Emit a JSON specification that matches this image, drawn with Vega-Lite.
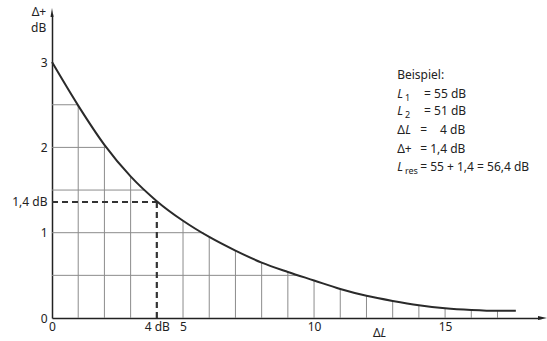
{
  "$schema": "https://vega.github.io/schema/vega-lite/v6.json",
  "width": 489,
  "height": 304,
  "autosize": {"type": "none"},
  "padding": {"left": 52, "top": 14, "right": 6, "bottom": 23},
  "background": "white",
  "config": {
    "font": "Noto Sans",
    "view": {"stroke": null},
    "axis": {
      "grid": false, "ticks": false, "tickSize": 0,
      "domainColor": "#222", "domainWidth": 1.5,
      "labelFont": "Noto Sans", "labelFontSize": 12, "labelColor": "#222",
      "labelOverlap": false, "labelFlush": false, "labelBound": false
    }
  },
  "datasets": {
    "curve": [
      {"x": 0, "y": 3.0}, {"x": 1, "y": 2.49}, {"x": 2, "y": 2.03}, {"x": 3, "y": 1.66},
      {"x": 4, "y": 1.37}, {"x": 5, "y": 1.14}, {"x": 6, "y": 0.95}, {"x": 7, "y": 0.79},
      {"x": 8, "y": 0.65}, {"x": 9, "y": 0.54}, {"x": 10, "y": 0.44}, {"x": 11, "y": 0.34},
      {"x": 12, "y": 0.26}, {"x": 13, "y": 0.2}, {"x": 14, "y": 0.15}, {"x": 15, "y": 0.115},
      {"x": 16, "y": 0.095}, {"x": 17, "y": 0.085}, {"x": 17.7, "y": 0.085}
    ],
    "vgrid": [
      {"x": 1, "y": 2.49, "y2": 0}, {"x": 2, "y": 2.03, "y2": 0}, {"x": 3, "y": 1.66, "y2": 0},
      {"x": 5, "y": 1.14, "y2": 0}, {"x": 6, "y": 0.95, "y2": 0}, {"x": 7, "y": 0.79, "y2": 0},
      {"x": 8, "y": 0.65, "y2": 0}, {"x": 9, "y": 0.54, "y2": 0}, {"x": 10, "y": 0.44, "y2": 0},
      {"x": 11, "y": 0.34, "y2": 0}, {"x": 12, "y": 0.26, "y2": 0}, {"x": 13, "y": 0.2, "y2": 0},
      {"x": 14, "y": 0.15, "y2": 0}, {"x": 15, "y": 0.115, "y2": 0}, {"x": 16, "y": 0.095, "y2": 0},
      {"x": 17, "y": 0.085, "y2": 0}
    ],
    "hgrid": [
      {"x": 0, "x2": 9.4, "y": 0.5}, {"x": 0, "x2": 5.78, "y": 1.0}, {"x": 0, "x2": 3.54, "y": 1.5},
      {"x": 0, "x2": 2.08, "y": 2.0}, {"x": 0, "x2": 0.98, "y": 2.5}
    ],
    "guide": [
      {"x": 0, "x2": 4, "y": 1.36, "y2": 1.36},
      {"x": 4, "x2": 4, "y": 0, "y2": 1.36}
    ],
    "arrowx": [{"x": 18.66, "y": 0}],
    "arrowy": [{"x": 0, "y": 3.564}],
    "plain": [
      {"x": 13.17, "y": 2.845, "t": "Beispiel:"},
      {"x": 14.2, "y": 2.623, "t": "= 55 dB"},
      {"x": 14.2, "y": 2.427, "t": "= 51 dB"},
      {"x": 13.17, "y": 2.2, "t": "Δ"},
      {"x": 14.05, "y": 2.2, "t": "="},
      {"x": 14.81, "y": 2.2, "t": "4 dB"},
      {"x": 13.17, "y": 1.984, "t": "Δ+"},
      {"x": 14.05, "y": 1.984, "t": "= 1,4 dB"},
      {"x": 14.05, "y": 1.77, "t": "= 55 + 1,4 = 56,4 dB"},
      {"x": 12.25, "y": -0.176, "t": "Δ"}
    ],
    "italic": [
      {"x": 13.17, "y": 2.623, "t": "L"},
      {"x": 13.17, "y": 2.427, "t": "L"},
      {"x": 13.48, "y": 2.2, "t": "L"},
      {"x": 13.17, "y": 1.77, "t": "L"},
      {"x": 12.54, "y": -0.176, "t": "L"}
    ],
    "sub": [
      {"x": 13.47, "y": 2.623, "t": "1"},
      {"x": 13.47, "y": 2.427, "t": "2"},
      {"x": 13.47, "y": 1.77, "t": "res"}
    ],
    "ytitle": [
      {"x": -0.22, "y": 3.587, "t": "Δ+"},
      {"x": -0.22, "y": 3.4, "t": "dB"}
    ]
  },
  "layer": [
    {
      "data": {"name": "vgrid"},
      "mark": {"type": "rule", "color": "#8c8c8c", "strokeWidth": 1},
      "encoding": {
        "x": {
          "field": "x", "type": "quantitative",
          "scale": {"domain": [0, 18.66], "nice": false, "zero": false},
          "axis": {"values": [0, 4, 5, 10, 15], "labelExpr": "datum.value == 4 ? '4 dB' : format(datum.value, 'd')", "labelPadding": 3, "title": null}
        },
        "y": {
          "field": "y", "type": "quantitative",
          "scale": {"domain": [0, 3.564], "nice": false, "zero": false},
          "axis": {"values": [0, 1, 1.36, 2, 3], "labelExpr": "datum.value == 1.36 ? '1,4 dB' : format(datum.value, 'd')", "labelPadding": 5, "title": null}
        },
        "y2": {"field": "y2"}
      }
    },
    {
      "data": {"name": "hgrid"},
      "mark": {"type": "rule", "color": "#8c8c8c", "strokeWidth": 1},
      "encoding": {
        "x": {"field": "x", "type": "quantitative"},
        "x2": {"field": "x2"},
        "y": {"field": "y", "type": "quantitative"}
      }
    },
    {
      "data": {"name": "guide"},
      "mark": {"type": "rule", "color": "#333", "strokeWidth": 2.2, "strokeDash": [6, 4]},
      "encoding": {
        "x": {"field": "x", "type": "quantitative"},
        "x2": {"field": "x2"},
        "y": {"field": "y", "type": "quantitative"},
        "y2": {"field": "y2"}
      }
    },
    {
      "data": {"name": "curve"},
      "mark": {"type": "line", "color": "#2a2a2a", "strokeWidth": 2, "interpolate": "monotone"},
      "encoding": {
        "x": {"field": "x", "type": "quantitative"},
        "y": {"field": "y", "type": "quantitative"}
      }
    },
    {
      "data": {"name": "arrowx"},
      "mark": {"type": "point", "filled": true, "opacity": 1, "color": "#222", "size": 144, "shape": "M1,0L-0.5,-0.35L-0.5,0.35Z"},
      "encoding": {
        "x": {"field": "x", "type": "quantitative"},
        "y": {"field": "y", "type": "quantitative"}
      }
    },
    {
      "data": {"name": "arrowy"},
      "mark": {"type": "point", "filled": true, "opacity": 1, "color": "#222", "size": 144, "shape": "M0,-1L0.25,0.5L-0.25,0.5Z"},
      "encoding": {
        "x": {"field": "x", "type": "quantitative"},
        "y": {"field": "y", "type": "quantitative"}
      }
    },
    {
      "data": {"name": "plain"},
      "mark": {"type": "text", "align": "left", "baseline": "middle", "fontSize": 12, "color": "#222"},
      "encoding": {
        "x": {"field": "x", "type": "quantitative"},
        "y": {"field": "y", "type": "quantitative"},
        "text": {"field": "t"}
      }
    },
    {
      "data": {"name": "italic"},
      "mark": {"type": "text", "align": "left", "baseline": "middle", "fontSize": 12, "fontStyle": "italic", "color": "#222"},
      "encoding": {
        "x": {"field": "x", "type": "quantitative"},
        "y": {"field": "y", "type": "quantitative"},
        "text": {"field": "t"}
      }
    },
    {
      "data": {"name": "sub"},
      "mark": {"type": "text", "align": "left", "baseline": "middle", "fontSize": 9, "dy": 4, "color": "#222"},
      "encoding": {
        "x": {"field": "x", "type": "quantitative"},
        "y": {"field": "y", "type": "quantitative"},
        "text": {"field": "t"}
      }
    },
    {
      "data": {"name": "ytitle"},
      "mark": {"type": "text", "align": "right", "baseline": "middle", "fontSize": 12, "color": "#222"},
      "encoding": {
        "x": {"field": "x", "type": "quantitative"},
        "y": {"field": "y", "type": "quantitative"},
        "text": {"field": "t"}
      }
    }
  ]
}
